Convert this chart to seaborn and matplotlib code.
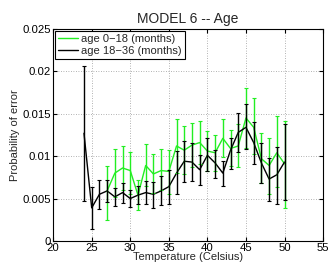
import numpy as np
import pandas as pd
import matplotlib
matplotlib.use("Agg")
import matplotlib.pyplot as plt
import seaborn as sns

# Age 0-18 (months) series (green)
temp_young = [27, 28, 29, 30, 31, 32, 33, 34, 35, 36, 37, 38, 39, 40, 41, 42, 43, 44, 45, 46, 47, 48, 49, 50]
p_young = [0.0059, 0.0080, 0.0086, 0.0083, 0.0054, 0.0089, 0.0079, 0.0083, 0.0082, 0.0112, 0.0107, 0.0113,
           0.0116, 0.0106, 0.0104, 0.0121, 0.0109, 0.0112, 0.0145, 0.0134, 0.0097, 0.0089, 0.0104, 0.0091]
hi_young = [0.0088, 0.0109, 0.0112, 0.0105, 0.0072, 0.0114, 0.0102, 0.0108, 0.0107, 0.0144, 0.0135, 0.0139,
            0.0141, 0.0130, 0.0125, 0.0144, 0.0131, 0.0138, 0.0180, 0.0168, 0.0127, 0.0121, 0.0147, 0.0141]
lo_young = [0.0025, 0.0052, 0.0060, 0.0055, 0.0036, 0.0065, 0.0056, 0.0060, 0.0055, 0.0080, 0.0079, 0.0087,
            0.0091, 0.0083, 0.0083, 0.0099, 0.0088, 0.0087, 0.0110, 0.0102, 0.0068, 0.0055, 0.0064, 0.0039]

# Age 18-36 (months) series (black)
temp_old = [24, 25, 26, 27, 28, 29, 30, 31, 32, 33, 34, 35, 36, 37, 38, 39, 40, 41, 42, 43, 44, 45, 46, 47, 48, 49, 50]
p_old = [0.0127, 0.0039, 0.0055, 0.0059, 0.0052, 0.0057, 0.0050, 0.0054, 0.0057, 0.0055, 0.0059, 0.0064, 0.0080,
         0.0094, 0.0093, 0.0084, 0.0101, 0.0092, 0.0080, 0.0107, 0.0128, 0.0134, 0.0116, 0.0092, 0.0073, 0.0078, 0.0093]
hi_old = [0.0206, 0.0064, 0.0072, 0.0072, 0.0063, 0.0068, 0.0060, 0.0065, 0.0071, 0.0070, 0.0076, 0.0084, 0.0106,
          0.0118, 0.0116, 0.0101, 0.0121, 0.0107, 0.0094, 0.0121, 0.0151, 0.0161, 0.0140, 0.0115, 0.0098, 0.0111, 0.0138]
lo_old = [0.0047, 0.0014, 0.0038, 0.0046, 0.0041, 0.0045, 0.0040, 0.0043, 0.0044, 0.0039, 0.0042, 0.0044, 0.0055,
          0.0069, 0.0071, 0.0066, 0.0083, 0.0074, 0.0065, 0.0085, 0.0105, 0.0109, 0.0091, 0.0068, 0.0047, 0.0044, 0.0048]

labels = ["age 0\u221218 (months)", "age 18\u221236 (months)"]
colors = ["#22ee22", "black"]

sns.set_style("white")
plt.rcParams['font.family'] = ['Liberation Sans', 'DejaVu Sans']

fig = plt.figure(figsize=(3.28, 2.68), dpi=100)
ax = fig.add_axes([0.162, 0.101, 0.823, 0.791])

df = pd.concat([
    pd.DataFrame({"Temperature": temp_young, "p": p_young, "group": labels[0]}),
    pd.DataFrame({"Temperature": temp_old, "p": p_old, "group": labels[1]}),
])

sns.lineplot(data=df, x="Temperature", y="p", hue="group", palette=dict(zip(labels, colors)),
             linewidth=1.0, ax=ax, zorder=3)

for t, p, lo, hi, c in [(temp_young, p_young, lo_young, hi_young, colors[0]),
                        (temp_old, p_old, lo_old, hi_old, colors[1])]:
    p = np.array(p); lo = np.array(lo); hi = np.array(hi)
    ax.errorbar(t, p, yerr=[p - lo, hi - p], fmt="none", ecolor=c, elinewidth=1.0,
                capsize=1.5, capthick=0.8, zorder=3)

ax.set_xlim(20, 55)
ax.set_ylim(0, 0.025)
ax.set_xticks([20, 25, 30, 35, 40, 45, 50, 55])
ax.set_yticks([0, 0.005, 0.01, 0.015, 0.02, 0.025])
ax.set_yticklabels(["0", "0.005", "0.01", "0.015", "0.02", "0.025"])
ax.grid(True, linestyle=(0, (1, 2)), color="#999999", linewidth=0.6)
ax.tick_params(direction="in", length=3, labelsize=8.2, top=True, right=True, pad=1.5,
               bottom=True, left=True, colors="black")
for s in ax.spines.values():
    s.set_color("black")
    s.set_linewidth(0.8)

ax.set_xlabel("Temperature (Celsius)", fontsize=8, labelpad=-1)
ax.set_ylabel("Probability of error", fontsize=8, labelpad=2)
ax.set_title("MODEL 6 -- Age", fontsize=10, pad=4)

leg = ax.legend(loc="upper left", fontsize=8, frameon=True, fancybox=False, borderpad=0.3,
                handlelength=1.8, handletextpad=0.3, labelspacing=0.15, borderaxespad=0.15)
leg.get_frame().set_edgecolor("black")
leg.get_frame().set_linewidth(0.8)
leg.get_frame().set_alpha(1)

fig.savefig("out.png", dpi=100)
